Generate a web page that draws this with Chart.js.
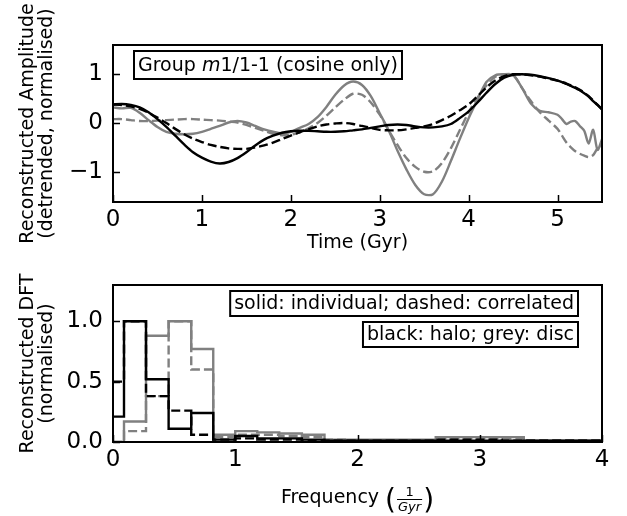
<!DOCTYPE html>
<html>
<head>
<meta charset="utf-8">
<script src="https://cdn.jsdelivr.net/npm/chart.js@4.4.1/dist/chart.umd.min.js"></script>
<style>
  html, body { margin: 0; padding: 0; background: #fff; }
  #wrap { position: relative; width: 627px; height: 516px; }
  canvas { position: absolute; left: 0; }
</style>
</head>
<body>
<div id="wrap">
  <canvas id="amp" width="627" height="258" style="top:0"></canvas>
  <canvas id="dft" width="627" height="258" style="top:258px"></canvas>
</div>
<script>
const FONT = '"DejaVu Sans", sans-serif';

// top panel: reconstructed amplitude vs time (Gyr)
const timeGyr = [
  0.0, 0.1, 0.2, 0.3, 0.4, 0.5, 0.6, 0.7, 0.8, 0.9,
  1.0, 1.1, 1.2, 1.3, 1.4, 1.5, 1.6, 1.7, 1.8, 1.9,
  2.0, 2.1, 2.2, 2.3, 2.4, 2.5, 2.6, 2.7, 2.8, 2.9,
  3.0, 3.1, 3.2, 3.3, 3.4, 3.5, 3.6, 3.7, 3.8, 3.9,
  4.0, 4.1, 4.2, 4.3, 4.4, 4.5, 4.6, 4.7, 4.8, 4.9,
  5.0, 5.05, 5.1, 5.15, 5.2, 5.25, 5.3, 5.35, 5.4, 5.45, 5.5
];
const haloIndividualAmp = [
  0.38, 0.39, 0.37, 0.32, 0.22, 0.08, -0.08, -0.26, -0.44, -0.60,
  -0.71, -0.79, -0.83, -0.80, -0.72, -0.60, -0.46, -0.34, -0.26, -0.20,
  -0.17, -0.16, -0.16, -0.17, -0.18, -0.18, -0.17, -0.15, -0.13, -0.10,
  -0.07, -0.04, -0.03, -0.04, -0.07, -0.09, -0.09, -0.07, -0.02, 0.10,
  0.24, 0.42, 0.62, 0.80, 0.93, 0.99, 1.00, 0.99, 0.96, 0.92,
  0.87, 0.84, 0.80, 0.76, 0.72, 0.67, 0.61, 0.54, 0.45, 0.37, 0.28
];
const haloCorrelatedAmp = [
  0.38, 0.37, 0.34, 0.29, 0.21, 0.11, 0.00, -0.12, -0.23, -0.32,
  -0.39, -0.45, -0.49, -0.52, -0.53, -0.53, -0.50, -0.46, -0.40, -0.33,
  -0.26, -0.19, -0.13, -0.07, -0.03, -0.01, 0.00, -0.02, -0.06, -0.10,
  -0.14, -0.15, -0.15, -0.13, -0.10, -0.07, -0.02, 0.06, 0.15, 0.26,
  0.38, 0.55, 0.73, 0.87, 0.96, 1.00, 1.00, 0.98, 0.95, 0.91,
  0.87, 0.84, 0.81, 0.77, 0.73, 0.68, 0.62, 0.55, 0.46, 0.37, 0.28
];
const discIndividualAmp = [
  0.32, 0.30, 0.31, 0.21, 0.06, -0.08, -0.18, -0.22, -0.23, -0.22,
  -0.18, -0.12, -0.06, 0.01, 0.04, 0.01, -0.06, -0.13, -0.18, -0.21,
  -0.18, -0.10, -0.02, 0.12, 0.33, 0.58, 0.77, 0.85, 0.78, 0.55,
  0.20, -0.15, -0.57, -0.95, -1.27, -1.46, -1.46, -1.20, -0.78, -0.33,
  0.10, 0.48, 0.84, 0.98, 1.00, 0.98, 0.72, 0.40, 0.25, 0.22,
  0.17, 0.08, -0.02, 0.03, 0.04, -0.06, -0.16, -0.42, -0.14, -0.55, -0.33
];
const discCorrelatedAmp = [
  0.08, 0.08, 0.06, 0.04, 0.04, 0.05, 0.06, 0.07, 0.08, 0.08,
  0.07, 0.06, 0.05, 0.03, 0.01, -0.04, -0.10, -0.16, -0.22, -0.25,
  -0.24, -0.19, -0.11, 0.00, 0.15, 0.32, 0.48, 0.60, 0.58, 0.42,
  0.17, -0.15, -0.45, -0.72, -0.90, -1.00, -0.99, -0.82, -0.52, -0.15,
  0.22, 0.52, 0.77, 0.95, 1.00, 0.99, 0.72, 0.45, 0.22, 0.05,
  -0.12, -0.26, -0.40, -0.50, -0.58, -0.63, -0.67, -0.70, -0.66, -0.52, -0.46
];
const timeTicks = [0, 1, 2, 3, 4, 5];
const ampTicks = [-1, 0, 1];

// bottom panel: normalised DFT vs frequency (1/Gyr)
const freqInvGyr = [
  0.00, 0.18, 0.36, 0.55, 0.73, 0.91, 1.09, 1.27, 1.45, 1.64, 1.82, 2.00,
  2.18, 2.36, 2.55, 2.73, 2.91, 3.09, 3.27, 3.45, 3.64, 3.82, 4.00
];
const haloIndividualDft = [0.21, 1.00, 0.52, 0.11, 0.24, 0.02, 0.05, 0.03, 0.03, 0.02, 0.01, 0.01, 0.01, 0.01, 0.01, 0.01, 0.01, 0.01, 0.01, 0.01, 0.01, 0.01, 0.01];
const haloCorrelatedDft = [0.50, 1.00, 0.38, 0.26, 0.06, 0.02, 0.03, 0.02, 0.02, 0.01, 0.01, 0.01, 0.01, 0.01, 0.01, 0.02, 0.02, 0.02, 0.01, 0.01, 0.01, 0.01, 0.01];
const discIndividualDft = [0.00, 0.17, 0.88, 1.00, 0.77, 0.06, 0.09, 0.08, 0.07, 0.06, 0.02, 0.02, 0.02, 0.02, 0.02, 0.04, 0.04, 0.04, 0.04, 0.01, 0.01, 0.01, 0.01];
const discCorrelatedDft = [0.00, 0.09, 0.38, 1.00, 0.60, 0.04, 0.06, 0.06, 0.05, 0.04, 0.02, 0.01, 0.01, 0.01, 0.01, 0.03, 0.03, 0.03, 0.03, 0.01, 0.01, 0.01, 0.01];
const freqTicks = [0, 1, 2, 3, 4];
const dftTicks = [0, 0.5, 1.0];

const DASH = [9, 4];

function series(label, xs, ys, color, dashed, stepped) {
  return {
    label,
    data: xs.map((x, i) => ({ x, y: ys[i] })),
    borderColor: color,
    borderWidth: 2.4,
    borderDash: dashed ? DASH : [],
    pointRadius: 0,
    fill: false,
    tension: stepped ? 0 : 0.3,
    stepped: stepped ? 'middle' : false
  };
}

// frame round the plot area and ticks pointing inward
const framePlugin = {
  id: 'frame',
  afterDatasetsDraw(chart) {
    const { ctx, chartArea: a, scales } = chart;
    ctx.save();
    ctx.strokeStyle = '#000';
    ctx.lineWidth = 1.5;
    ctx.beginPath();
    scales.x.ticks.forEach(t => {
      const px = Math.round(scales.x.getPixelForValue(t.value)) + 0.5;
      ctx.moveTo(px, a.bottom); ctx.lineTo(px, a.bottom - 7);
    });
    scales.y.ticks.forEach(t => {
      const py = Math.round(scales.y.getPixelForValue(t.value)) + 0.5;
      ctx.moveTo(a.left, py); ctx.lineTo(a.left + 7, py);
    });
    ctx.stroke();
    ctx.lineWidth = 2;
    ctx.strokeRect(a.left, a.top, a.right - a.left, a.bottom - a.top);
    ctx.restore();
  }
};

function textBox(ctx, parts, x, yTop, h, alignRight) {
  ctx.save();
  let w = 0;
  parts.forEach(p => {
    ctx.font = (p.italic ? 'italic ' : '') + '19px ' + FONT;
    p.w = ctx.measureText(p.text).width;
    w += p.w;
  });
  const padX = 4;
  const bw = w + 2 * padX;
  const bx = alignRight ? x - bw : x;
  ctx.fillStyle = '#fff';
  ctx.fillRect(bx, yTop, bw, h);
  ctx.lineWidth = 2;
  ctx.strokeStyle = '#000';
  ctx.strokeRect(bx, yTop, bw, h);
  ctx.fillStyle = '#000';
  ctx.textBaseline = 'middle';
  let cx = bx + padX;
  parts.forEach(p => {
    ctx.font = (p.italic ? 'italic ' : '') + '19px ' + FONT;
    ctx.fillText(p.text, cx, yTop + h / 2 + 1);
    cx += p.w;
  });
  ctx.restore();
}

function yScale(min, max, ticks, fmt, titleLines) {
  return {
    type: 'linear', min, max,
    grid: { display: false, drawTicks: false },
    border: { display: false },
    afterBuildTicks: s => { s.ticks = ticks.map(v => ({ value: v })); },
    ticks: { color: '#000', font: { size: 23, family: FONT }, padding: 10, callback: fmt },
    title: { display: true, text: titleLines, color: '#000', font: { size: 19, family: FONT, lineHeight: 1.03 }, padding: { top: 18, bottom: 0 } },
    afterFit: s => { s.width = 113; }
  };
}

function xScale(min, max, ticks, title, height) {
  return {
    type: 'linear', min, max,
    grid: { display: false, drawTicks: false },
    border: { display: false },
    afterBuildTicks: s => { s.ticks = ticks.map(v => ({ value: v })); },
    ticks: { color: '#000', font: { size: 23, family: FONT }, padding: 4, maxRotation: 0, autoSkip: false },
    title: title,
    afterFit: s => { s.height = height; }
  };
}

new Chart(document.getElementById('amp'), {
  type: 'line',
  data: {
    datasets: [
      series('halo, individual', timeGyr, haloIndividualAmp, '#000', false),
      series('halo, correlated', timeGyr, haloCorrelatedAmp, '#000', true),
      series('disc, individual', timeGyr, discIndividualAmp, '#808080', false),
      series('disc, correlated', timeGyr, discCorrelatedAmp, '#808080', true)
    ]
  },
  options: {
    responsive: false,
    animation: false,
    layout: { padding: { top: 45, right: 25, left: 0, bottom: 0 } },
    plugins: { legend: { display: false }, tooltip: { enabled: false } },
    scales: {
      x: xScale(0, 5.5, timeTicks,
        { display: true, text: 'Time (Gyr)', color: '#000', font: { size: 19, family: FONT }, padding: { top: 0, bottom: 4 } }, 56),
      y: yScale(-1.62, 1.6, ampTicks, v => (v < 0 ? '\u2212' + Math.abs(v) : String(v)),
        ['Reconstructed Amplitude', '(detrended, normalised)'])
    }
  },
  plugins: [framePlugin, {
    id: 'groupBox',
    afterDraw(chart) {
      const a = chart.chartArea;
      textBox(chart.ctx, [{ text: 'Group ' }, { text: 'm', italic: true }, { text: '1/1-1 (cosine only)' }], a.left + 21, 51, 28, false);
    }
  }]
});

new Chart(document.getElementById('dft'), {
  type: 'line',
  data: {
    datasets: [
      series('halo, individual', freqInvGyr, haloIndividualDft, '#000', false, true),
      series('halo, correlated', freqInvGyr, haloCorrelatedDft, '#000', true, true),
      series('disc, individual', freqInvGyr, discIndividualDft, '#808080', false, true),
      series('disc, correlated', freqInvGyr, discCorrelatedDft, '#808080', true, true)
    ]
  },
  options: {
    responsive: false,
    animation: false,
    layout: { padding: { top: 27, right: 25, left: 0, bottom: 0 } },
    plugins: { legend: { display: false }, tooltip: { enabled: false } },
    scales: {
      x: xScale(0, 4, freqTicks, { display: false }, 74),
      y: yScale(0, 1.3, dftTicks, v => Number(v).toFixed(1), ['Reconstructed DFT', '(normalised)'])
    }
  },
  plugins: [framePlugin, {
    id: 'legendBoxes',
    afterDraw(chart) {
      const a = chart.chartArea;
      const ctx = chart.ctx;
      textBox(ctx, [{ text: 'solid: individual; dashed: correlated' }], 578, a.top + 6, 25, true);
      textBox(ctx, [{ text: 'black: halo; grey: disc' }], 578, a.top + 37, 25, true);

      // x-axis title with a stacked fraction 1/Gyr
      ctx.save();
      ctx.fillStyle = '#000';
      ctx.strokeStyle = '#000';
      ctx.textBaseline = 'alphabetic';
      const base = 245;
      const mainFont = '19px ' + FONT;
      const parFont = '28px ' + FONT;
      const smallFont = '13px ' + FONT;
      const smallItalic = 'italic 13px ' + FONT;
      ctx.font = mainFont; const wMain = ctx.measureText('Frequency ').width;
      ctx.font = parFont; const wPar = ctx.measureText('(').width;
      ctx.font = smallItalic; const wGyr = ctx.measureText('Gyr').width;
      const wFrac = wGyr + 4;
      const total = wMain + wPar * 2 + wFrac;
      let x = (a.left + a.right) / 2 - total / 2;
      ctx.font = mainFont; ctx.fillText('Frequency ', x, base); x += wMain;
      ctx.font = parFont; ctx.fillText('(', x, base + 6); x += wPar;
      ctx.textAlign = 'center';
      ctx.font = smallFont; ctx.fillText('1', x + wFrac / 2, base - 7);
      ctx.lineWidth = 1;
      ctx.beginPath(); ctx.moveTo(x + 1, base - 3.5); ctx.lineTo(x + wFrac - 1, base - 3.5); ctx.stroke();
      ctx.font = smallItalic; ctx.fillText('Gyr', x + wFrac / 2, base + 8);
      x += wFrac;
      ctx.textAlign = 'left';
      ctx.font = parFont; ctx.fillText(')', x, base + 6);
      ctx.restore();
    }
  }]
});
</script>
</body>
</html>
